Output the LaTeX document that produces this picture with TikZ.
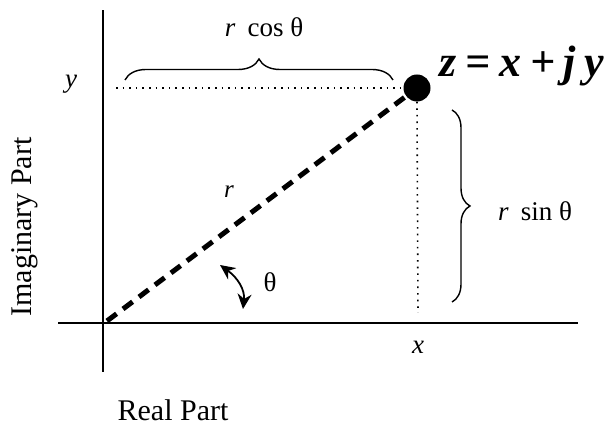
\documentclass[tikz,border=0pt]{standalone}
\usepackage{fontspec}
\setmainfont{Liberation Serif}
\usetikzlibrary{decorations.pathreplacing,arrows.meta}
\begin{document}
\begin{tikzpicture}[x=1pt,y=1pt,
  axis/.style={line width=2pt},
  dotline/.style={line width=1.6pt,dash pattern=on 1.6pt off 5pt},
  radius line/.style={line width=5pt,dash pattern=on 12pt off 8pt},
  bracestyle/.style={line width=1.4pt,decorate,decoration={brace,amplitude=#1}},
  lbl/.style={inner sep=0pt,font=\fontsize{27}{30}\selectfont},
  big/.style={inner sep=0pt,font=\fontsize{30}{36}\selectfont}]
\useasboundingbox (0,0) rectangle (606,428);
% axes
\coordinate (vtop) at (103,418);
\coordinate (vbot) at (103,56);
\coordinate (hl) at (58,105);
\coordinate (hr) at (578,105);
\draw[axis] (vbot) -- (vtop);
\draw[axis] (hl) -- (hr);
% points
\coordinate (O) at (107,107);
\node[circle,fill=black,minimum size=27pt,inner sep=0pt] (z) at (417,340) {};
\coordinate (dl) at (116,340);
\coordinate (vb) at (418,115);
% dotted projections
\draw[dotline] (dl) -- (z.west);
\draw[dotline] (z.south) -- (vb);
% radius
\draw[radius line] (O) -- (z);
% braces
\coordinate (b1) at (125,348);
\coordinate (b2) at (393,348);
\draw[bracestyle=21] (b1) -- (b2);
\coordinate (b3) at (452,318);
\coordinate (b4) at (452,126);
\draw[bracestyle=18] (b3) -- (b4);
% angle arrow
\coordinate (a1) at (220,163);
\coordinate (a2) at (243,119);
\draw[line width=1.8pt,{Stealth[length=15pt,width=14pt]}-{Stealth[length=15pt,width=14pt]}] (a1) .. controls (238,150) and (245,138) .. (a2);
% labels
\node[lbl] (rcos) at (264,401) {\textit{r}\hspace{0.45em}cos θ};
\node[lbl] (ylbl) at (71,344) {\textit{y}};
\node[inner sep=0pt,font=\fontsize{44}{48}\selectfont\bfseries\itshape] (zlbl) at (522,362) {z\hspace{0.2em}=\hspace{0.2em}x\hspace{0.2em}+\hspace{0.2em}j\hspace{0.2em}y};
\node[lbl] (rsin) at (535,217) {\textit{r}\hspace{0.45em}sin θ};
\node[lbl] (xlbl) at (418,81) {\textit{x}};
\node[lbl] (th) at (270,146) {θ};
\node[inner sep=0pt,font=\fontsize{25}{28}\selectfont] (rl) at (229,236) {\textit{r}};
\node[big,rotate=90] (im) at (25,201) {Imaginary Part};
\node[big] (re) at (173,18) {Real Part};
\end{tikzpicture}
\end{document}
